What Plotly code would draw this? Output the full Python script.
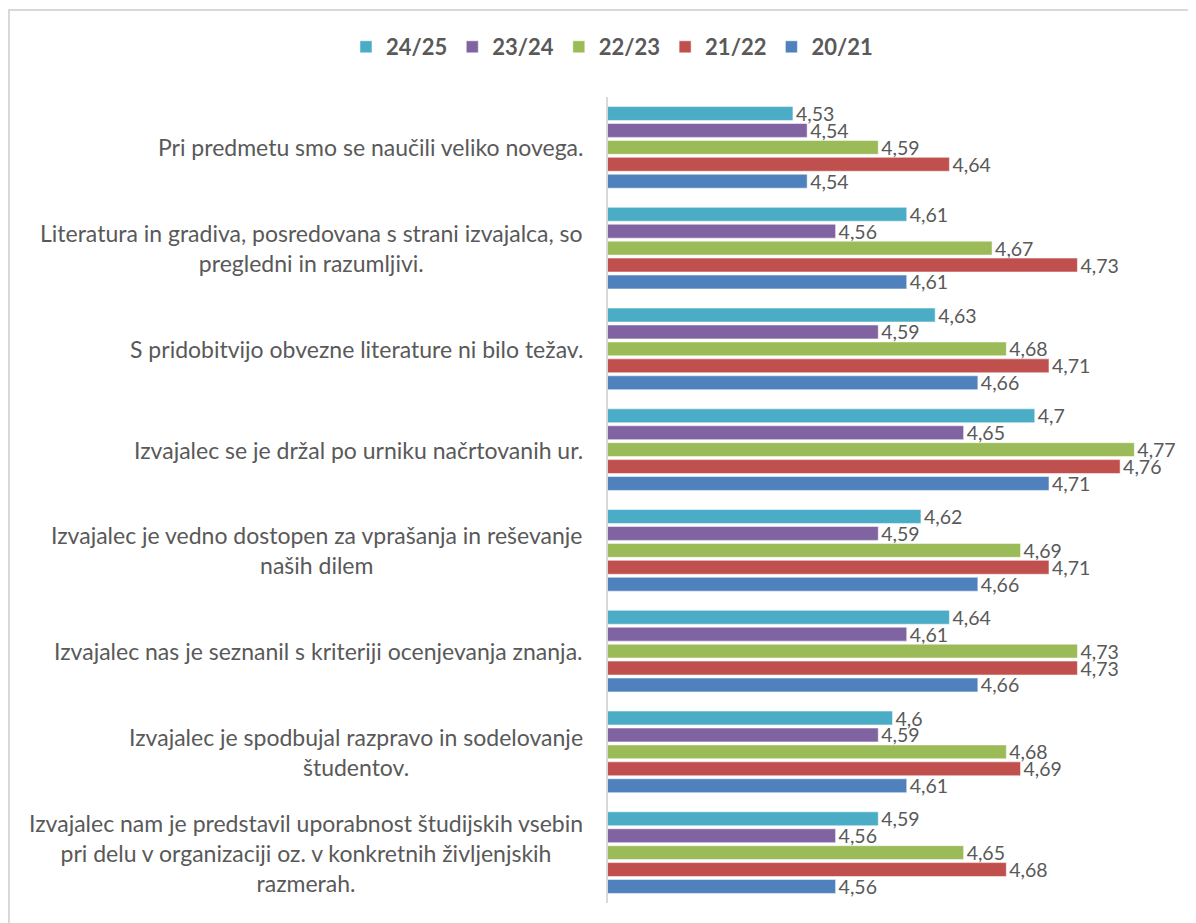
import plotly.graph_objects as go

# podatki
kategorije = [
    "Pri predmetu smo se naučili veliko novega.",
    "Literatura in gradiva, posredovana s strani izvajalca, so<br>pregledni in razumljivi.",
    "S pridobitvijo obvezne literature ni bilo težav.",
    "Izvajalec se je držal po urniku načrtovanih ur.",
    "Izvajalec je vedno dostopen za vprašanja in reševanje<br>naših dilem",
    "Izvajalec nas je seznanil s kriteriji ocenjevanja znanja.",
    "Izvajalec je spodbujal razpravo in sodelovanje<br>študentov.",
    "Izvajalec nam je predstavil uporabnost študijskih vsebin<br>pri delu v organizaciji oz. v konkretnih življenjskih<br>razmerah.",
]

leta = ["24/25", "23/24", "22/23", "21/22", "20/21"]

v_24_25 = [4.53, 4.61, 4.63, 4.70, 4.62, 4.64, 4.60, 4.59]
v_23_24 = [4.54, 4.56, 4.59, 4.65, 4.59, 4.61, 4.59, 4.56]
v_22_23 = [4.59, 4.67, 4.68, 4.77, 4.69, 4.73, 4.68, 4.65]
v_21_22 = [4.64, 4.73, 4.71, 4.76, 4.71, 4.73, 4.69, 4.68]
v_20_21 = [4.54, 4.61, 4.66, 4.71, 4.66, 4.66, 4.61, 4.56]

serije = [v_24_25, v_23_24, v_22_23, v_21_22, v_20_21]
barve = ["#4BACC6", "#8064A2", "#9BBB59", "#C0504D", "#4F81BD"]

FONT = "Lato, Open Sans, Arial, sans-serif"
SIVA = "#595959"

# stran ima ~8 px robu, zato je slika za 8 px manjša
W, H = 1188, 915
M_L, M_R, M_T, M_B = 600, 19, 89, 20
pw = W - M_L - M_R
ph = H - M_T - M_B

fig = go.Figure()
for ime, vals, barva in zip(leta, serije, barve):
    fig.add_trace(go.Bar(
        y=kategorije, x=vals, name=ime, orientation="h",
        marker=dict(color=barva),
        text=[str(v).rstrip("0").replace(".", ",") for v in vals],
        textposition="outside",
        textfont=dict(size=19.5, color=SIVA, family=FONT),
        constraintext="none",
        cliponaxis=False,
    ))

# oznake kategorij (sredinsko poravnane vrstice, kot v Excelu)
for k in kategorije:
    fig.add_annotation(
        x=0, xref="paper", y=k, yref="y",
        text=k, showarrow=False,
        xanchor="right", xshift=-23, align="center",
        font=dict(size=23, color=SIVA, family=FONT),
    )

# okvir grafa (viden le zgornji in levi rob)
fig.add_shape(
    type="rect", xref="paper", yref="paper",
    x0=-(M_L - 1) / pw, x1=1 + (M_R + 20) / pw,
    y0=-(M_B + 20) / ph, y1=1 + (M_T - 2) / ph,
    line=dict(color="#D9D9D9", width=2),
)

fig.update_layout(
    width=W, height=H,
    template="plotly_white",
    paper_bgcolor="white",
    plot_bgcolor="white",
    barmode="group",
    bargap=0.16,
    bargroupgap=0.18,
    font=dict(family=FONT, size=19, color=SIVA),
    margin=dict(l=M_L, r=M_R, t=M_T, b=M_B),
    showlegend=True,
    legend=dict(
        orientation="h", x=0.007, xanchor="center",
        y=1 + (M_T - 39) / ph, yanchor="middle",
        font=dict(size=22, color=SIVA, family=FONT, weight="bold"),
        itemwidth=30, tracegroupgap=0,
    ),
    xaxis=dict(
        range=[4.4, 4.8], showticklabels=False, showgrid=False,
        zeroline=False, showline=False, ticks="",
    ),
    yaxis=dict(
        autorange="reversed", showticklabels=False, showgrid=False,
        showline=True, linecolor="#D9D9D9", linewidth=2, ticks="",
    ),
)

fig.write_html("out.html")
